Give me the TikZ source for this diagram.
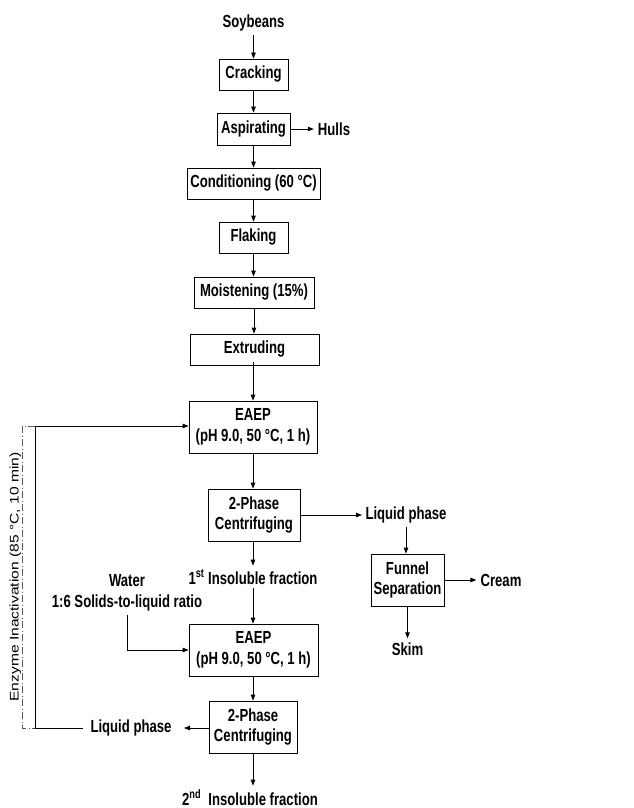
\documentclass[tikz,border=0pt]{standalone}
\usepackage{fontspec}
\setmainfont{Liberation Sans}[FakeStretch=0.75]
\newfontfamily\plainfont{Liberation Sans}
\usetikzlibrary{arrows.meta,calc}
\begin{document}
\begin{tikzpicture}[x=1pt,y=-1pt,
  every node/.style={font=\fontsize{17.5}{20}\selectfont\bfseries, inner sep=4pt},
  stepbox/.style={draw, line width=0.8pt, align=center, inner sep=0pt},
  lbl/.style={align=center},
  conn/.style={line width=0.8pt, -{Triangle[length=6pt,width=4.5pt]}},
  dashdot/.style={line width=0.8pt, gray!70!black, dash pattern=on 7pt off 2.5pt on 1pt off 2.5pt}
]
\useasboundingbox (0,0) rectangle (633,808);

% nodes
\node[lbl] (soy) at (253.5,23) {Soybeans};
\node[stepbox, minimum width=69, minimum height=31] (crack) at (253.5,74.5) {Cracking};
\node[stepbox, minimum width=73, minimum height=32] (asp) at (253.5,129) {Aspirating};
\node[lbl] (hulls) at (334,129) {Hulls};
\node[stepbox, minimum width=133, minimum height=31] (cond) at (253.5,183.5) {Conditioning (60 °C)};
\node[stepbox, minimum width=69, minimum height=31] (flak) at (253.5,237.5) {Flaking};
\node[stepbox, minimum width=120, minimum height=31] (moist) at (254,292.5) {Moistening (15\%)};
\node[stepbox, minimum width=129, minimum height=31] (extr) at (254.5,349.5) {Extruding};
\node[stepbox, minimum width=128, minimum height=52, font=\fontsize{17.5}{21}\selectfont\bfseries] (eaep1) at (253,427) {EAEP\\(pH 9.0, 50 °C, 1 h)};
\node[stepbox, minimum width=92, minimum height=52] (cen1) at (254,515) {2-Phase\\Centrifuging};
\node[lbl] (lp1) at (406,515) {Liquid phase};
\node[stepbox, minimum width=73, minimum height=52] (fun) at (407.5,580) {Funnel\\Separation};
\node[lbl] (cream) at (501,580) {Cream};
\node[lbl] (skim) at (407.5,649) {Skim};
\node[lbl] (ins1) at (253,577) {1\textsuperscript{st} Insoluble fraction};
\node[lbl, font=\fontsize{17.5}{21}\selectfont\bfseries] (water) at (127,592.5) {Water\\1:6 Solids-to-liquid ratio};
\node[stepbox, minimum width=129, minimum height=52, font=\fontsize{17.5}{21}\selectfont\bfseries] (eaep2) at (253.5,650) {EAEP\\(pH 9.0, 50 °C, 1 h)};
\node[stepbox, minimum width=88, minimum height=52] (cen2) at (253,727) {2-Phase\\Centrifuging};
\node[lbl] (lp2) at (131,728) {Liquid phase};
\node[lbl, anchor=base] (ins2) at (250,805) {2\textsuperscript{nd}\ \ Insoluble fraction};
\node[rotate=90, inner sep=0pt] (enz) at (15.5,577) {\scalebox{1}[0.8]{\plainfont\mdseries\fontsize{15.6}{18}\selectfont Enzyme Inactivation (85 °C, 10 min)}};

% helper coordinates
\coordinate (lp2in) at (184,728);
\coordinate (lp2out) at (83,728);
\coordinate (lpin) at (362,515);
\coordinate (c1) at (35,728);
\coordinate (c2) at (35,426);
\coordinate (d1) at (22,426);
\coordinate (d2) at (22,728);
\coordinate (wbend) at (127,650);

% main chain
\draw[conn] (soy) -- (soy |- crack.north);
\draw[conn] (crack) -- (asp);
\draw[conn] (asp) -- (hulls);
\draw[conn] (asp) -- (cond);
\draw[conn] (cond) -- (flak);
\draw[conn] (flak.south) -- (flak.south |- moist.north);
\draw[conn] (moist.south) -- (moist.south |- extr.north);
\draw[conn] ([yshift=3]eaep1.north |- extr.south) -- (eaep1.north);
\draw[conn] (eaep1) -- (eaep1 |- cen1.north);
\draw[conn] (cen1.east) -- (lpin);
\draw[conn] (lp1) -- (lp1 |- fun.north);
\draw[conn] (fun) -- (cream);
\draw[conn] (fun) -- (fun |- skim.north);
\draw[conn] (ins1 |- cen1.south) -- (ins1);
\draw[conn] (ins1) -- (ins1 |- eaep2.north);
\draw[conn] (water.south) -- (wbend) -- (eaep2.west);
\draw[conn] (cen2 |- eaep2.south) -- (cen2);
\draw[conn] (cen2.west |- lp2in) -- (lp2in);
\draw[conn] (cen2.south) -- (cen2.south |- ins2.north);

% recycle loop
\draw[conn] (lp2out) -- (c1) -- (c2) -- (c2 -| eaep1.west);
\draw[dashdot] (c2) -- (d1) -- (d2) -- (c1);
\end{tikzpicture}
\end{document}
